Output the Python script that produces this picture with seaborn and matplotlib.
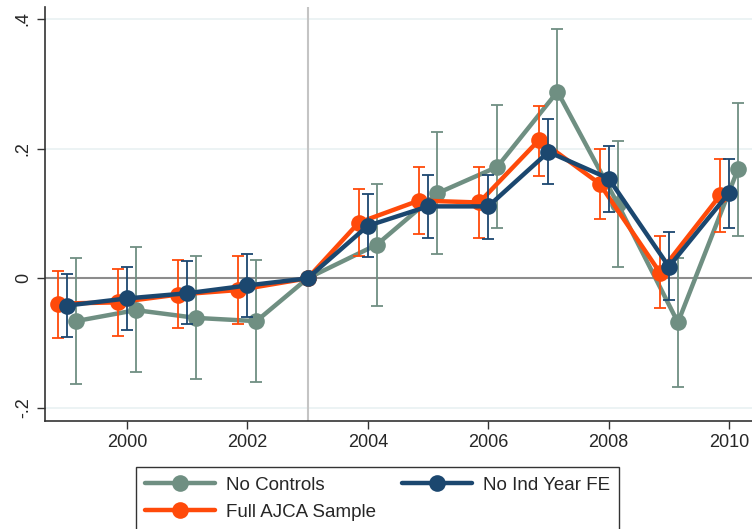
import numpy as np
import pandas as pd
import matplotlib
matplotlib.use("Agg")
import matplotlib.pyplot as plt
import seaborn as sns
from matplotlib.lines import Line2D

# --- data ---
years = np.array([1999, 2000, 2001, 2002, 2003, 2004, 2005, 2006, 2007, 2008, 2009, 2010])

no_controls = [-0.066, -0.049, -0.061, -0.066, 0.0, 0.052, 0.131, 0.172, 0.288, 0.115, -0.068, 0.169]
no_controls_lo = [-0.163, -0.145, -0.155, -0.160, 0.0, -0.043, 0.038, 0.077, 0.191, 0.018, -0.168, 0.066]
no_controls_hi = [0.032, 0.048, 0.034, 0.028, 0.0, 0.146, 0.225, 0.268, 0.385, 0.212, 0.032, 0.271]

full_ajca = [-0.039, -0.037, -0.025, -0.018, 0.0, 0.086, 0.120, 0.117, 0.214, 0.146, 0.009, 0.128]
full_ajca_lo = [-0.092, -0.089, -0.076, -0.070, 0.0, 0.034, 0.068, 0.063, 0.158, 0.091, -0.046, 0.071]
full_ajca_hi = [0.011, 0.015, 0.028, 0.034, 0.0, 0.138, 0.171, 0.171, 0.266, 0.200, 0.066, 0.184]

no_ind_fe = [-0.042, -0.031, -0.023, -0.011, 0.0, 0.081, 0.111, 0.111, 0.195, 0.154, 0.018, 0.132]
no_ind_fe_lo = [-0.090, -0.080, -0.071, -0.060, 0.0, 0.033, 0.062, 0.060, 0.146, 0.103, -0.033, 0.078]
no_ind_fe_hi = [0.007, 0.018, 0.026, 0.038, 0.0, 0.130, 0.159, 0.160, 0.246, 0.204, 0.071, 0.184]

labels = ["No Controls", "Full AJCA Sample", "No Ind Year FE"]
colors = {"No Controls": "#6F8F82", "Full AJCA Sample": "#FF4A0A", "No Ind Year FE": "#1B476F"}
shift = {"No Controls": 0.15, "Full AJCA Sample": -0.15, "No Ind Year FE": 0.0}

series = {
    "No Controls": (no_controls, no_controls_lo, no_controls_hi),
    "Full AJCA Sample": (full_ajca, full_ajca_lo, full_ajca_hi),
    "No Ind Year FE": (no_ind_fe, no_ind_fe_lo, no_ind_fe_hi),
}

rows = []
for name, (est, lo, hi) in series.items():
    xpos = years + np.where(years == 2003, 0.0, shift[name])
    for x, e, l, h in zip(xpos, est, lo, hi):
        rows.append({"x": x, "est": e, "lo": l, "hi": h, "model": name})
df = pd.DataFrame(rows)

sns.set_style("white")
plt.rcParams["font.family"] = ["Liberation Sans", "DejaVu Sans"]

fig = plt.figure(figsize=(7.52, 5.29), dpi=100)
ax = fig.add_axes([45 / 752, 108 / 529, 707 / 752, 414 / 529])

# grid
for g in [-0.2, 0.2, 0.4]:
    ax.axhline(g, color="#EAF2F3", lw=1.3, zorder=0)
ax.axhline(0, color="#8C8C8C", lw=1.5, zorder=1)
ax.axvline(2003, color="#C4C4C4", lw=1.5, zorder=1)

z = {"No Controls": 3, "Full AJCA Sample": 4, "No Ind Year FE": 5}
for name in labels:
    d = df[df.model == name]
    ax.errorbar(d.x, d.est, yerr=[d.est - d.lo, d.hi - d.est], fmt="none",
                ecolor=colors[name], elinewidth=1.3, capsize=4, capthick=1.3,
                zorder=z[name])
    sns.lineplot(data=d, x="x", y="est", color=colors[name], lw=3.2,
                 marker="o", markersize=12, markeredgewidth=0, ax=ax,
                 zorder=z[name], legend=False, errorbar=None, sort=False)

ax.set_xlim(1998.64, 2010.38)
ax.set_ylim(-0.22, 0.4185)
ax.set_xticks([2000, 2002, 2004, 2006, 2008, 2010])
ax.set_yticks([-0.2, 0, 0.2, 0.4])
ax.set_yticklabels(["-.2", "0", ".2", ".4"], rotation=90, va="center")
ax.tick_params(axis="both", labelsize=13, length=6, width=1, color="#333333",
               direction="out", left=True, bottom=True)
ax.set_xlabel("")
ax.set_ylabel("")
for side in ["top", "right"]:
    ax.spines[side].set_visible(False)
for side in ["left", "bottom"]:
    ax.spines[side].set_color("#333333")
    ax.spines[side].set_linewidth(1.2)

handles = [Line2D([], [], color=colors[n], lw=3.2, marker="o", markersize=12,
                  markeredgewidth=0) for n in labels]
leg = fig.legend(handles, labels, loc="upper left", ncol=2,
                 bbox_to_anchor=(136 / 752, 1 - 467 / 529),
                 bbox_transform=fig.transFigure, frameon=True, fancybox=False,
                 edgecolor="black", fontsize=13.5, handlelength=3.7,
                 columnspacing=1.4, labelspacing=0.55, borderpad=0.5,
                 handletextpad=0.6, borderaxespad=0)
leg.get_frame().set_linewidth(1.0)

fig.savefig("out.png", dpi=100)
